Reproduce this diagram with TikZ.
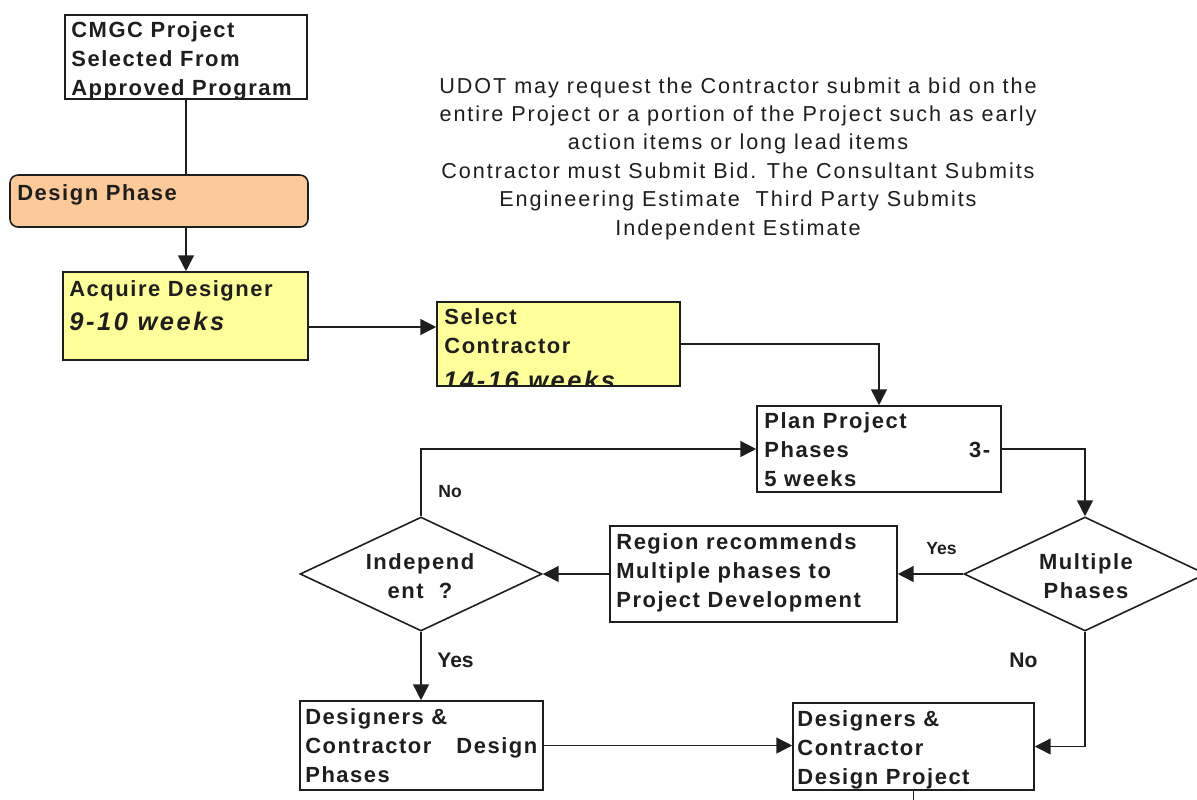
\documentclass[tikz,border=0pt]{standalone}
\usepackage{fontspec}
\usetikzlibrary{arrows.meta,fit,shapes.geometric}
\newfontfamily\bxfont{Liberation Sans}[LetterSpace=7]
\newfontfamily\wkfont{Liberation Sans}[LetterSpace=10]
\newfontfamily\notefont{Liberation Sans}[LetterSpace=9]
\newfontfamily\lblfont{Liberation Sans}
\definecolor{peach}{RGB}{252,202,152}
\definecolor{paleyellow}{RGB}{255,255,153}
\definecolor{ink}{RGB}{30,30,30}
\newcommand\boxlines[2]{\parbox[t]{#1}{\raggedright #2}}
\newcommand\midlines[2]{\parbox[t]{#1}{\centering #2}}

\begin{document}
\begin{tikzpicture}[x=0.02cm,y=-0.02cm,
  frame/.style={draw=ink, line width=0.9pt, inner sep=0pt},
  plainbox/.style={frame, fill=white},
  yelbox/.style={frame, fill=paleyellow},
  yelfill/.style={fill=paleyellow, line width=0.9pt, inner sep=0pt},
  phasebox/.style={frame, fill=peach, rounded corners=0.16cm},
  decision/.style={draw=ink, line width=0.9pt, diamond, inner sep=0pt,
    minimum width=4.84cm, minimum height=2.28cm},
  boxtext/.style={inner sep=0pt, anchor=base west, text=ink,
    font=\bxfont\bfseries\fontsize{12.5}{16.7}\selectfont},
  midtext/.style={boxtext, anchor=base},
  weektext/.style={inner sep=0pt, anchor=base west, text=ink,
    font=\wkfont\bfseries\itshape\fontsize{14.5}{17}\selectfont},
  notetext/.style={inner sep=0pt, anchor=base, text=ink,
    font=\notefont\fontsize{12.3}{16.2}\selectfont},
  lbl/.style={inner sep=0pt, anchor=base west, text=ink,
    font=\lblfont\bfseries\fontsize{10}{12}\selectfont},
  biglbl/.style={lbl, font=\lblfont\bfseries\fontsize{12}{14}\selectfont},
  link/.style={draw=ink, line width=0.9pt},
  arrow/.style={link, -{Triangle[length=9pt,width=9pt]}}]

\useasboundingbox (0,0) rectangle (1197,799);
\clip (0,0) rectangle (1197,799);
\fill[white] (0,0) rectangle (1197,799);

% boxes
\node[plainbox, fit={(65,15) (307,99)}] (cmgc) {};
\node[phasebox, fit={(10,175) (308,227)}] (design) {};
\node[yelbox, fit={(63,272) (308,360)}] (acq) {};
\node[yelfill, fit={(437,302) (680,386)}] (sel) {};
\node[plainbox, fit={(757,406) (1001,492)}] (plan) {};
\node[plainbox, fit={(610,526) (897,622)}] (region) {};
\node[plainbox, fit={(300,701) (543,790)}] (dphase) {};
\node[plainbox, fit={(793,703) (1034,790)}] (dproj) {};
\node[decision] (multi) at (1085,574) {};
\node[decision] (indep) at (421,574) {};

% box texts
\node[boxtext] (cmgc-t) at (71,37) {\boxlines{4.6cm}{CMGC Project\\Selected From\\Approved Program}};
\node[boxtext] (design-t) at (17,200) {Design Phase};
\node[boxtext] (acq-t) at (69,296) {Acquire Designer};
\node[weektext] (acq-w) at (69,330) {9-10 weeks};
\begin{scope}
  % the last line of this box runs past its lower edge and is cut off
  \clip (sel.south west) rectangle (sel.north east);
  \node[boxtext] (sel-t) at (444,324) {\boxlines{4.6cm}{Select\\Contractor}};
  \node[weektext] (sel-w) at (443,389) {14-16 weeks};
\end{scope}
\node[frame, fit={(437,302) (680,386)}] (sel-frame) {};
\node[boxtext] (plan-t) at (764,428) {\boxlines{4.52cm}{Plan Project\\Phases\hfill 3-\\5 weeks}};
\node[boxtext] (region-t) at (616,549) {\boxlines{5.6cm}{Region recommends\\Multiple phases to\\Project Development}};
\node[boxtext] (dphase-t) at (305,724) {\boxlines{4.64cm}{Designers \&\\Contractor\hfill Design\\Phases}};
\node[boxtext] (dproj-t) at (797,726) {\boxlines{4.6cm}{Designers \&\\Contractor\\Design Project}};
\node[midtext] (multi-t) at (1086,569) {\midlines{3cm}{Multiple\\Phases}};
\node[midtext] (indep-t) at (420,569) {\midlines{3cm}{Independ\\ent~~?}};

% note
\node[notetext] (note) at (738,93) {\midlines{14cm}{UDOT may request the Contractor submit a bid on the\\
entire Project or a portion of the Project such as early\\
action items or long lead items\\
Contractor must Submit Bid. The Consultant Submits\\
Engineering Estimate~~Third Party Submits\\
Independent Estimate}};

% connectors
\coordinate (rowA) at (0,327);
\coordinate (tail) at (913,810);
\draw[link] (cmgc.south) -- (cmgc.south |- design.north);
\draw[arrow] (cmgc.south |- design.south) -- (cmgc.south |- acq.north);
\draw[arrow] (acq.east |- rowA) -- (sel.west |- rowA);
\draw[arrow] (sel.east) -| (plan.north);
\draw[arrow] (plan.east) -| (multi.north);
\draw[arrow] (multi.west) -- (region.east);
\draw[arrow] (region.west) -- (indep.east);
\draw[arrow] (indep.north) |- (plan.west);
\draw[arrow] (indep.south) -- (indep.south |- dphase.north);
\draw[arrow] (dphase.east) -- (dphase.east -| dproj.west);
\draw[arrow] (multi.south) |- (dproj.east);
\draw[link] (dproj.south) -- (dproj.south |- tail);

% branch labels
\node[lbl] (no-up) at (438,497) {No};
\node[lbl] (yes-up) at (926,554) {Yes};
\node[biglbl] (yes-dn) at (437,667) {Yes};
\node[biglbl] (no-dn) at (1009,667) {No};
\end{tikzpicture}
\end{document}
